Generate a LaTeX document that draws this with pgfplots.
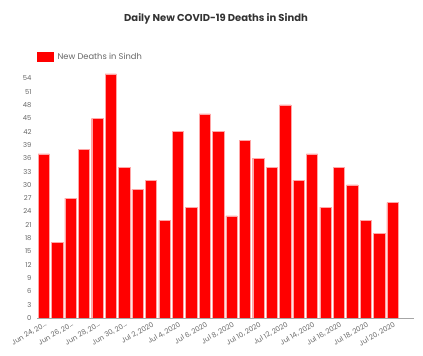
\documentclass[border=0pt]{standalone}
\usepackage{fontspec}
\setmainfont{Poppins}
\usepackage{pgfplots}
\pgfplotsset{compat=1.18}
\definecolor{tickgray}{HTML}{666666}
\begin{document}
\begin{tikzpicture}
\useasboundingbox (0,0) rectangle (423bp,356bp);
\node[font=\fontsize{10bp}{12bp}\selectfont\bfseries, text=black!80] at (216bp,337bp) {Daily New COVID-19 Deaths in Sindh};
\begin{axis}[
  at={(37bp,38bp)}, anchor=south west,
  scale only axis, width=377bp, height=253bp,
  xmin=-0.5, xmax=27.6, ymin=0, ymax=57,
  ybar, bar width=0.84, bar shift=0pt,
  axis x line*=bottom, axis y line*=left,
  x axis line style={-, draw=gray!70},
  y axis line style={draw=none},
  major tick length=0pt,
  ytick={0,3,...,54},
  xtick={0,2,...,26},
  xticklabels={{Jun 24, 20\ldots},{Jun 26, 20\ldots},{Jun 28, 20\ldots},{Jun 30, 20\ldots},{Jul 2, 2020},{Jul 4, 2020},{Jul 6, 2020},{Jul 8, 2020},{Jul 10, 2020},{Jul 12, 2020},{Jul 14, 2020},{Jul 16, 2020},{Jul 18, 2020},{Jul 20, 2020}},
  /pgf/number format/assume math mode=true,
  yticklabel style={font=\fontsize{6.8bp}{8bp}\selectfont, text=tickgray, xshift=-2bp},
  xticklabel style={font=\fontsize{7bp}{8bp}\selectfont, text=tickgray, rotate=30, anchor=north east, inner sep=1bp, yshift=-2bp},
  legend style={at={(0,1)}, anchor=south west, draw=none, fill=none, inner sep=0pt, yshift=2bp,
    font=\fontsize{8.3bp}{9bp}\selectfont, text=tickgray},
  legend image code/.code={\fill[red] (0bp,-4.5bp) rectangle (16bp,4.5bp);},
  legend cell align=left,
  legend style={/tikz/every even column/.append style={column sep=0pt}, nodes={inner xsep=4bp}},
]
\addplot[fill=red, draw=red!35!white, line width=0.4pt] coordinates {
(0,37) (1,17) (2,27) (3,38) (4,45) (5,55) (6,34) (7,29) (8,31) (9,22)
(10,42) (11,25) (12,46) (13,42) (14,23) (15,40) (16,36) (17,34) (18,48) (19,31)
(20,37) (21,25) (22,34) (23,30) (24,22) (25,19) (26,26)};
\addlegendentry{New Deaths in Sindh}
\end{axis}
\end{tikzpicture}
\end{document}
